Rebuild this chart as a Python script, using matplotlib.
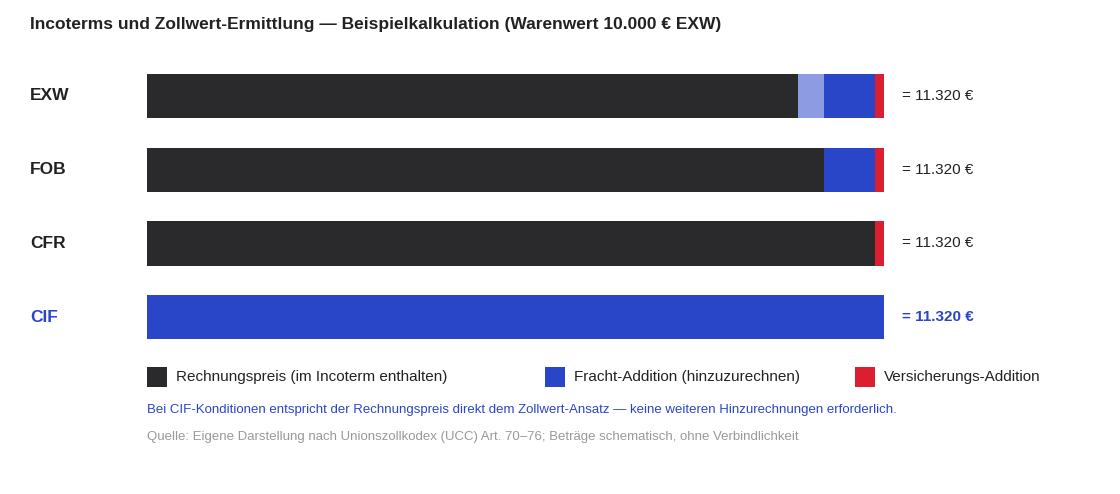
import matplotlib.pyplot as plt
from matplotlib.patches import FancyBboxPatch

plt.rcParams['font.family'] = ['Liberation Sans', 'DejaVu Sans']

terms = ['EXW', 'FOB', 'CFR', 'CIF']
rechnung = [10000, 10400, 11180, 0]
vorlauf = [400, 0, 0, 0]
fracht = [780, 780, 0, 11320]
versicherung = [140, 140, 140, 0]
totals = ['= 11.320 €', '= 11.320 €', '= 11.320 €', '= 11.320 €']

DARK = '#2a2a2d'
LIGHT = '#8d9be2'
BLUE = '#2946c8'
RED = '#dc1f30'

W, H = 1120, 494
fig = plt.figure(figsize=(W / 100, H / 100), dpi=100)
ax = fig.add_axes([147 / W, 1 - 354 / H, (884 - 147) / W, (354 - 59) / H])
ax.set_xlim(0, 11320)
ax.set_ylim(3.5, -0.5)
ax.axis('off')

h = 0.6
for i, t in enumerate(terms):
    left = 0
    for vals, col in [(rechnung, DARK), (vorlauf, LIGHT), (fracht, BLUE), (versicherung, RED)]:
        v = vals[i]
        if v > 0:
            ax.barh(i, v, left=left, height=h, color=col, linewidth=0)
            left += v
    hl = t == 'CIF'
    fig.text(30 / W, ax.transData.transform((0, i))[1] / H, t,
             fontsize=12.5, fontweight='bold', va='center',
             color=BLUE if hl else '#222222')
    fig.text(902 / W, ax.transData.transform((0, i))[1] / H, totals[i],
             fontsize=11, va='center', color=BLUE if hl else '#222222',
             fontweight='bold' if hl else 'normal')

fig.text(30 / W, 1 - 25 / H,
         'Incoterms und Zollwert-Ermittlung — Beispielkalkulation (Warenwert 10.000 € EXW)',
         fontsize=12.5, fontweight='bold', va='center', color='#222222')

legend = [(147, DARK, 'Rechnungspreis (im Incoterm enthalten)'),
          (545, BLUE, 'Fracht-Addition (hinzuzurechnen)'),
          (855, RED, 'Versicherungs-Addition')]
for x, col, lab in legend:
    fig.patches.append(FancyBboxPatch((x / W, 1 - 387 / H), 20 / W, 20 / H,
                                      boxstyle='square,pad=0', transform=fig.transFigure,
                                      facecolor=col, edgecolor='none'))
    fig.text((x + 29) / W, 1 - 377 / H, lab, fontsize=11, va='center', color='#222222')

fig.text(147 / W, 1 - 410 / H,
         'Bei CIF-Konditionen entspricht der Rechnungspreis direkt dem Zollwert-Ansatz — keine weiteren Hinzurechnungen erforderlich.',
         fontsize=9.5, va='center', color=BLUE)
fig.text(147 / W, 1 - 437 / H,
         'Quelle: Eigene Darstellung nach Unionszollkodex (UCC) Art. 70–76; Beträge schematisch, ohne Verbindlichkeit',
         fontsize=9.5, va='center', color='#999999')

fig.savefig('out.png', dpi=100, facecolor='white')
